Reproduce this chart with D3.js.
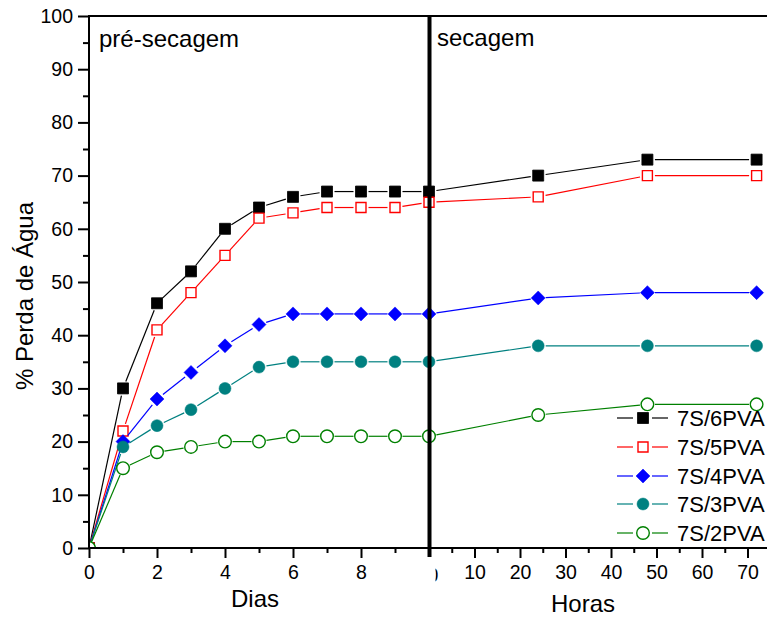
<!DOCTYPE html>
<html>
<head>
<meta charset="utf-8">
<script src="https://cdn.jsdelivr.net/npm/d3@7"></script>
<style>
html,body{margin:0;padding:0;background:#fff;overflow:hidden;}
svg{display:block;font-family:"Liberation Sans",Arial,sans-serif;}
</style>
</head>
<body>
<svg id="chart" width="767" height="619"></svg>
<script>
// ---- data ----
const dayValues = [0,1,2,3,4,5,6,7,8,9,10];
const hourValues = [24,48,72];
const seriesNames = ["7S/6PVA","7S/5PVA","7S/4PVA","7S/3PVA","7S/2PVA"];
const s6Days = [0,30,46,52,60,64,66,67,67,67,67];
const s6Hours = [70,73,73];
const s5Days = [0,22,41,48,55,62,63,64,64,64,65];
const s5Hours = [66,70,70];
const s4Days = [0,20,28,33,38,42,44,44,44,44,44];
const s4Hours = [47,48,48];
const s3Days = [0,19,23,26,30,34,35,35,35,35,35];
const s3Hours = [38,38,38];
const s2Days = [0,15,18,19,20,20,21,21,21,21,21];
const s2Hours = [25,27,27];
const yTicks = [0,10,20,30,40,50,60,70,80,90,100];
const dayTicks = [0,2,4,6,8];
const hourTicks = [10,20,30,40,50,60,70];
const yTitle = "% Perda de Água";
const dayTitle = "Dias";
const hourTitle = "Horas";
const phaseLabels = ["pré-secagem","secagem"];

// ---- styles ----
const styles = [
  {color:"#000000", shape:"square", filled:true},
  {color:"#ff0000", shape:"square", filled:false},
  {color:"#0000ff", shape:"diamond", filled:true},
  {color:"#008080", shape:"circle", filled:true},
  {color:"#008000", shape:"circle", filled:false}
];
const seriesDays = [s6Days,s5Days,s4Days,s3Days,s2Days];
const seriesHours = [s6Hours,s5Hours,s4Hours,s3Hours,s2Hours];

const svg = d3.select("#chart");
const pLeft = 89, pTop = 16, pBottom = 548, pMid = 429;
const xDays = d3.scaleLinear().domain([0,10]).range([pLeft, pMid]);
const xHours = d3.scaleLinear().domain([0,80]).range([pMid, pMid + 80*4.55]);
const y = d3.scaleLinear().domain([0,100]).range([pBottom, pTop]);

const defs = svg.append("defs");
defs.append("clipPath").attr("id","plotclip")
  .append("rect").attr("x", pLeft+1).attr("y", 0).attr("width", 900).attr("height", pBottom - 1);
defs.append("clipPath").attr("id","zclip")
  .append("rect").attr("x", 435.5).attr("y", 550).attr("width", 20).attr("height", 40);

function markerPath(shape, filled){
  if(shape==="square"){ const h = filled?5.5:5; return `M${-h},${-h}H${h}V${h}H${-h}Z`; }
  if(shape==="diamond"){ const h = 7; return `M0,${-h}L${h},0L0,${h}L${-h},0Z`; }
  const r = filled?6:6.3;
  return `M${r},0A${r},${r} 0 1,1 ${-r},0A${r},${r} 0 1,1 ${r},0Z`;
}
function drawMarker(g, st, cx, cy){
  g.append("path").attr("d", markerPath(st.shape, st.filled))
    .attr("transform", `translate(${cx},${cy})`)
    .attr("fill", st.filled ? st.color : "#fff")
    .attr("stroke", st.color)
    .attr("stroke-width", st.filled ? (st.shape==="square"?0.8:0.5) : 1.4);
}

// ---- data layer ----
const plot = svg.append("g").attr("clip-path","url(#plotclip)");
const gap = 7.5;
seriesDays.forEach((vals, i) => {
  const st = styles[i];
  const pts = dayValues.map((d,k) => [xDays(d), y(vals[k])])
    .concat(hourValues.map((h,k) => [xHours(h), y(seriesHours[i][k])]));
  const g = plot.append("g");
  for(let k=0;k<pts.length-1;k++){
    const [x1,y1] = pts[k], [x2,y2] = pts[k+1];
    const dx = x2-x1, dy = y2-y1, L = Math.hypot(dx,dy);
    if(L <= 2*gap) continue;
    const ux = dx/L, uy = dy/L;
    const g0 = k===0 ? 0 : gap;
    g.append("line")
      .attr("x1", x1+ux*g0).attr("y1", y1+uy*g0)
      .attr("x2", x2-ux*gap).attr("y2", y2-uy*gap)
      .attr("stroke", st.color).attr("stroke-width", 1.2);
  }
  pts.forEach(p => drawMarker(g, st, p[0], p[1]));
});

// ---- axes ----
const axisG = svg.append("g");
const FONT = "Liberation Sans, Arial, sans-serif";
// Y axis
const yAxis = d3.axisLeft(y).tickValues(d3.range(0,101,5)).tickSize(11)
  .tickFormat(d => yTicks.includes(d) ? d : "");
const ya = axisG.append("g").attr("transform",`translate(${pLeft},0)`).call(yAxis);
ya.select(".domain").remove();
ya.selectAll(".tick line").attr("stroke","#000").attr("stroke-width",2)
  .attr("x2", d => d%10===0 ? -11 : -6);
ya.selectAll(".tick text").attr("x",-16).attr("font-size","19.5px")
  .attr("font-family",FONT).attr("fill","#000");

// Days axis
const dAxis = d3.axisBottom(xDays).tickValues(d3.range(0,10,1)).tickSize(10)
  .tickFormat(d => dayTicks.includes(d) ? d : "");
const da = axisG.append("g").attr("transform",`translate(0,${pBottom})`).call(dAxis);
da.select(".domain").remove();
da.selectAll(".tick line").attr("stroke","#000").attr("stroke-width",2)
  .attr("y2", d => d%2===0 ? 10 : 5);
da.selectAll(".tick text").attr("y",17).attr("font-size","19.5px")
  .attr("font-family",FONT).attr("fill","#000");

// Hours axis
const hAxis = d3.axisBottom(xHours).tickValues(d3.range(5,80,5)).tickSize(10)
  .tickFormat(d => hourTicks.includes(d) ? d : "");
const ha = axisG.append("g").attr("transform",`translate(0,${pBottom})`).call(hAxis);
ha.select(".domain").remove();
ha.selectAll(".tick line").attr("stroke","#000").attr("stroke-width",2)
  .attr("y2", d => d%10===0 ? 10 : 5);
ha.selectAll(".tick text").attr("y",17).attr("font-size","19.5px")
  .attr("font-family",FONT).attr("fill","#000");

// partially hidden "0" of hours axis
svg.append("text").attr("clip-path","url(#zclip)")
  .attr("x", xHours(0)+4).attr("y", 582).attr("text-anchor","middle")
  .attr("font-size","19.5px").text("0");

// frame lines
axisG.append("line").attr("x1",pLeft).attr("x2",pLeft).attr("y1",pTop-1).attr("y2",pBottom+1)
  .attr("stroke","#000").attr("stroke-width",2);
axisG.append("line").attr("x1",pLeft-1).attr("x2",800).attr("y1",pBottom).attr("y2",pBottom)
  .attr("stroke","#000").attr("stroke-width",2);
axisG.append("line").attr("x1",pLeft-1).attr("x2",800).attr("y1",pTop).attr("y2",pTop)
  .attr("stroke","#000").attr("stroke-width",2);
// divider
svg.append("line").attr("x1",xDays(10)+0.5).attr("x2",xDays(10)+0.5).attr("y1",pTop).attr("y2",pBottom+9)
  .attr("stroke","#000").attr("stroke-width",4);

// ---- labels ----
svg.append("text").attr("x",99).attr("y",47).attr("font-size","24px").text(phaseLabels[0]);
svg.append("text").attr("x",437).attr("y",46).attr("font-size","24px").text(phaseLabels[1]);
svg.append("text").attr("transform","translate(33,296) rotate(-90)").attr("text-anchor","middle")
  .attr("font-size","24px").text(yTitle);
svg.append("text").attr("x",255).attr("y",607).attr("text-anchor","middle")
  .attr("font-size","24px").text(dayTitle);
svg.append("text").attr("x",583).attr("y",612).attr("text-anchor","middle")
  .attr("font-size","24px").text(hourTitle);

// ---- legend ----
const leg = svg.append("g");
const rowY = [418,447,476,504,533];
seriesNames.forEach((name,i) => {
  const st = styles[i], cy = rowY[i];
  leg.append("line").attr("x1",617).attr("x2",633).attr("y1",cy).attr("y2",cy)
    .attr("stroke",st.color).attr("stroke-width",1.2);
  leg.append("line").attr("x1",652).attr("x2",668).attr("y1",cy).attr("y2",cy)
    .attr("stroke",st.color).attr("stroke-width",1.2);
  drawMarker(leg, st, 643, cy);
  leg.append("text").attr("x",677).attr("y",cy).attr("dy","0.36em")
    .attr("font-size","22px").text(name);
});
</script>
</body>
</html>
